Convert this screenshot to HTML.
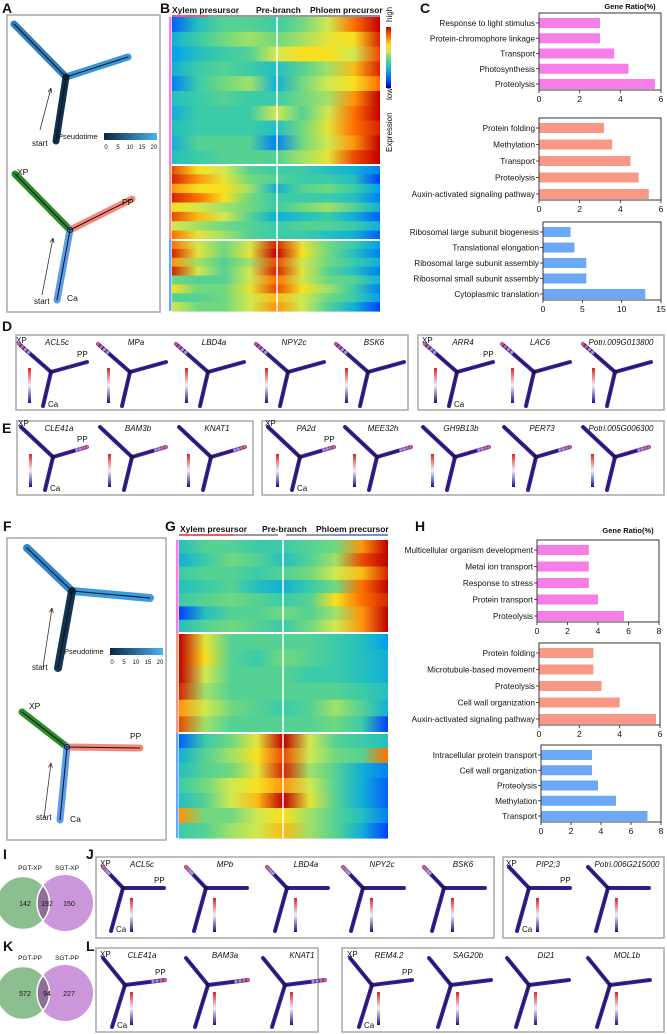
<!DOCTYPE html>
<html><head><meta charset="utf-8">
<style>
html,body{margin:0;padding:0;background:#fff;}
svg{display:block;font-family:"Liberation Sans",Arial,sans-serif;}
</style></head>
<body>
<svg id="fig" width="667" height="1034" viewBox="0 0 667 1034" xmlns="http://www.w3.org/2000/svg">
<defs id="defs"></defs>
</svg>
<script>
// ---------- DATA ----------
const cLabels1=["Response to light stimulus","Protein-chromophore linkage","Transport","Photosynthesis","Proteolysis"];
const cValues1=[3,3,3.7,4.4,5.7];
const cLabels2=["Protein folding","Methylation","Transport","Proteolysis","Auxin-activated signaling pathway"];
const cValues2=[3.2,3.6,4.5,4.9,5.4];
const cLabels3=["Ribosomal large subunit biogenesis","Translational elongation","Ribosomal large subunit assembly","Ribosomal small subunit assembly","Cytoplasmic translation"];
const cValues3=[3.5,4,5.5,5.5,13];
const hLabels1=["Multicellular organism development","Metal ion transport","Response to stress","Protein transport","Proteolysis"];
const hValues1=[3.4,3.4,3.4,4,5.7];
const hLabels2=["Protein folding","Microtubule-based movement","Proteolysis","Cell wall organization","Auxin-activated signaling pathway"];
const hValues2=[2.7,2.7,3.1,4,5.8];
const hLabels3=["Intracellular protein transport","Cell wall organization","Proteolysis","Methylation","Transport"];
const hValues3=[3.4,3.4,3.8,5,7.1];
const ticks6=[0,2,4,6];
const ticks8=[0,2,4,6,8];
const ticks15=[0,5,10,15];

const bCluster1=[[0.15,0.35,0.45,0.45,0.4,0.5,0.6,0.85,1],[0.3,0.4,0.5,0.55,0.5,0.55,0.65,0.7,0.95],[0.25,0.35,0.4,0.45,0.6,0.7,0.7,0.6,0.9],[0.3,0.4,0.45,0.4,0.35,0.45,0.55,0.75,0.95],[0.2,0.4,0.5,0.55,0.3,0.5,0.6,0.7,0.85],[0.35,0.4,0.45,0.4,0.4,0.5,0.55,0.8,1],[0.3,0.4,0.4,0.4,0.6,0.45,0.6,0.85,1],[0.35,0.4,0.4,0.4,0.35,0.5,0.65,0.85,0.95],[0.3,0.45,0.45,0.45,0.2,0.5,0.6,0.8,1],[0.35,0.4,0.45,0.45,0.45,0.55,0.65,0.9,1]];
const bCluster2=[[0.9,0.7,0.6,0.45,0.4,0.4,0.35,0.3,0.2],[0.95,0.8,0.65,0.5,0.45,0.4,0.4,0.35,0.1],[0.8,0.7,0.7,0.55,0.3,0.45,0.5,0.4,0.25],[0.95,0.85,0.7,0.5,0.4,0.4,0.4,0.35,0.2],[0.7,0.6,0.55,0.5,0.4,0.5,0.55,0.45,0.3],[0.9,0.75,0.6,0.45,0.3,0.35,0.4,0.3,0.15],[0.6,0.55,0.5,0.45,0.4,0.45,0.45,0.4,0.3],[0.85,0.65,0.55,0.45,0.4,0.4,0.35,0.3,0.15]];
const bCluster3=[[0.85,0.6,0.5,0.6,0.95,0.65,0.5,0.4,0.25],[0.95,0.65,0.5,0.65,1,0.7,0.5,0.35,0.2],[0.8,0.55,0.45,0.55,0.9,0.6,0.5,0.4,0.3],[0.95,0.6,0.45,0.6,0.95,0.65,0.45,0.35,0.2],[0.5,0.45,0.45,0.6,0.85,0.6,0.5,0.45,0.3],[0.7,0.5,0.5,0.65,0.9,0.7,0.55,0.4,0.2],[0.45,0.45,0.5,0.6,0.75,0.6,0.5,0.4,0.25],[0.6,0.5,0.5,0.6,0.8,0.6,0.45,0.3,0.1]];
const gCluster1=[[0.35,0.45,0.45,0.4,0.4,0.45,0.5,0.8,1],[0.3,0.4,0.5,0.45,0.35,0.45,0.55,0.9,1],[0.4,0.45,0.45,0.4,0.45,0.5,0.6,0.75,0.95],[0.35,0.4,0.45,0.35,0.3,0.4,0.5,0.85,1],[0.4,0.45,0.5,0.45,0.4,0.45,0.7,0.85,0.95],[0.1,0.35,0.45,0.45,0.5,0.45,0.55,0.8,1],[0.35,0.45,0.5,0.45,0.4,0.5,0.6,0.8,1]];
const gCluster2=[[1,0.65,0.45,0.45,0.45,0.45,0.4,0.35,0.25],[1,0.7,0.45,0.4,0.5,0.45,0.4,0.35,0.3],[1,0.6,0.45,0.45,0.45,0.4,0.4,0.35,0.3],[0.95,0.55,0.45,0.45,0.45,0.45,0.45,0.4,0.35],[0.8,0.6,0.5,0.45,0.4,0.45,0.55,0.45,0.3],[0.9,0.55,0.45,0.45,0.45,0.45,0.5,0.4,0.1]];
const gCluster3=[[0.15,0.4,0.5,0.65,1,0.6,0.45,0.4,0.35],[0.3,0.45,0.55,0.7,0.9,0.6,0.5,0.45,0.85],[0.35,0.45,0.5,0.65,0.95,0.55,0.45,0.3,0.2],[0.4,0.5,0.6,0.7,0.8,0.6,0.45,0.3,0.15],[0.35,0.45,0.6,0.75,1,0.65,0.45,0.3,0.15],[0.8,0.5,0.5,0.6,0.7,0.55,0.45,0.35,0.2],[0.4,0.45,0.55,0.6,0.75,0.55,0.45,0.3,0.1]];

const vennXP=[142,192,150];
const vennPP=[572,94,227];

const genesD1=["ACL5c","MPa","LBD4a","NPY2c","BSK6"];
const genesD2=["ARR4","LAC6","Potri.009G013800"];
const genesE1=["CLE41a","BAM3b","KNAT1"];
const genesE2=["PA2d","MEE32h","GH9B13b","PER73","Potri.005G006300"];
const genesJ1=["ACL5c","MPb","LBD4a","NPY2c","BSK6"];
const genesJ2=["PIP2;3","Potri.006G215000"];
const genesL1=["CLE41a","BAM3a","KNAT1"];
const genesL2=["REM4.2","SAG20b","DI21","MOL1b"];

// ---------- HELPERS ----------
const NS="http://www.w3.org/2000/svg";
const svg=document.getElementById("fig");
const defs=document.getElementById("defs");
function mk(tag,attrs,parent){const e=document.createElementNS(NS,tag);for(const k in attrs)e.setAttribute(k,attrs[k]);(parent||svg).appendChild(e);return e;}
function txt(x,y,s,size,opts,parent){opts=opts||{};const t=mk("text",Object.assign({x:x,y:y,"font-size":size,fill:"#111"},opts),parent);t.textContent=s;return t;}
const jetStops=[[0,[0,0,143]],[0.1,[0,64,255]],[0.25,[0,160,240]],[0.38,[48,200,176]],[0.5,[112,216,128]],[0.6,[208,232,80]],[0.7,[248,224,32]],[0.85,[255,112,0]],[1,[192,0,0]]];
function jet(v){v=Math.max(0,Math.min(1,v));for(let i=1;i<jetStops.length;i++){if(v<=jetStops[i][0]){const a=jetStops[i-1],b=jetStops[i];const t=(v-a[0])/(b[0]-a[0]);const c=a[1].map((x,j)=>Math.round(x+(b[1][j]-x)*t));return "rgb("+c.join(",")+")";}}return "rgb(192,0,0)";}
let gid=0;

// ---------- PANEL LETTERS ----------
[["A",2,13],["B",160,13],["C",420,13],["D",2,331],["E",2,433],["F",3,531],["G",165,531],["H",415,531],["I",3,859],["J",86,859],["K",3,951],["L",86,951]].forEach(p=>{
  const t=txt(p[1],p[2],p[0],14,{"font-weight":"bold"});
  
  
});

// ---------- BAR CHARTS ----------
function barChart(name,box,labels,values,max,ticks,color){
  const g=mk("g",{});
  
  
  const xs=v=>box.x0+v/max*(box.x1-box.x0);
  const step=(box.y1-box.y0-16)/(labels.length-1);
  labels.forEach((lab,i)=>{
    const y=box.y0+10+i*step;
    const r=mk("rect",{x:box.x0+0.5,y:y-5,width:Math.max(0,xs(values[i])-box.x0-0.5),height:10,fill:color},g);
    
    
    mk("line",{x1:box.x0-3,x2:box.x0,y1:y,y2:y,stroke:"#222","stroke-width":0.8},g);
    const t=txt(box.x0-4,y+3,lab,8.2,{"text-anchor":"end"},g);
    
    
  });
  const fr=mk("rect",{x:box.x0,y:box.y0,width:box.x1-box.x0,height:box.y1-box.y0,fill:"none",stroke:"#222","stroke-width":0.9},g);
  
  
  ticks.forEach(tk=>{
    const x=xs(tk);
    mk("line",{x1:x,x2:x,y1:box.y1,y2:box.y1+3,stroke:"#222","stroke-width":0.8},g);
    const t=txt(x,box.y1+12,String(tk),8.5,{"text-anchor":"middle"},g);
    
    
  });
}
const pink="#f77ee8",salmon="#f99886",blue="#6ba8f5";
barChart("chart-c-xylem",{x0:539,x1:661,y0:13,y1:90},cLabels1,cValues1,6,ticks6,pink);
barChart("chart-c-prebranch",{x0:539,x1:661,y0:118,y1:200},cLabels2,cValues2,6,ticks6,salmon);
barChart("chart-c-phloem",{x0:543,x1:661,y0:222,y1:300},cLabels3,cValues3,15,ticks15,blue);
barChart("chart-h-xylem",{x0:537,x1:659,y0:540,y1:622},hLabels1,hValues1,8,ticks8,pink);
barChart("chart-h-prebranch",{x0:539,x1:660,y0:643,y1:725},hLabels2,hValues2,6,ticks6,salmon);
barChart("chart-h-phloem",{x0:541,x1:661,y0:745,y1:822},hLabels3,hValues3,8,ticks8,blue);
[[630,9],[628,533]].forEach(p=>{const t=txt(p[0],p[1],"Gene Ratio(%)",7.5,{"font-weight":"bold","text-anchor":"middle"});

});

// ---------- HEATMAPS ----------
function heatmap(name,x0,x1,clusters,bounds,stripColors,prebranchX){
  const g=mk("g",{});
  
  
  clusters.forEach((rows,ci)=>{
    const y0=bounds[ci],y1=bounds[ci+1],h=(y1-y0)/rows.length;
    rows.forEach((prof,ri)=>{
      const id="hg"+(gid++);
      const lg=mk("linearGradient",{id:id,x1:0,x2:1,y1:0,y2:0},defs);
      prof.forEach((v,k)=>mk("stop",{offset:k/(prof.length-1),"stop-color":jet(v)},lg));
      const r=mk("rect",{x:x0,y:y0+ri*h,width:x1-x0,height:h+0.6,fill:"url(#"+id+")"},g);
      
      
    });
    const s=mk("rect",{x:x0-3,y:y0,width:2.5,height:y1-y0,fill:stripColors[ci]},g);
    
    
    if(ci>0){mk("line",{x1:x0,x2:x1,y1:y0,y2:y0,stroke:"#fff","stroke-width":2},g);}
  });
  const v=mk("line",{x1:prebranchX,x2:prebranchX,y1:bounds[0],y2:bounds[bounds.length-1],stroke:"#fff","stroke-width":1.5},g);
  
  
}
heatmap("heatmap-b",172,380,[bCluster1,bCluster2,bCluster3],[17,165,240,311],[pink,salmon,blue],277);
heatmap("heatmap-g",179,388,[gCluster1,gCluster2,gCluster3],[540,633,733,838],[pink,salmon,blue],283);

function header(y,xs,segs){
  const names=["Xylem presursor","Pre-branch","Phloem precursor"];
  names.forEach((n,i)=>{const t=txt(xs[i],y,n,8.5,{"font-weight":"bold"});
  
  });
  segs.forEach(s=>mk("rect",{x:s[0],y:y+2,width:s[1]-s[0],height:2,fill:s[2]}));
}
header(13,[172,256,310],[[172,209,"#ee5a6a"],[209,343,"#9a9a9a"],[343,380,"#7a8fd0"]]);
header(532,[180,262,316],[[179,233,"#ee5a6a"],[233,278,"#9a9a9a"],[286,334,"#9a9a9a"],[334,388,"#7a8fd0"]]);

// expression colorbar
(function(){
  const lg=mk("linearGradient",{id:"jetv",x1:0,x2:0,y1:1,y2:0},defs);
  for(let k=0;k<=10;k++)mk("stop",{offset:k/10,"stop-color":jet(k/10)},lg);
  const r=mk("rect",{x:386,y:27,width:5,height:61,fill:"url(#jetv)"});
  
  
  [["high",392,22],["low",392,100],["Expression",392,152]].forEach(p=>{
    const t=txt(p[1],p[2],p[0],8,{transform:"rotate(-90 "+p[1]+" "+p[2]+")"});
    
    
  });
})();

// ---------- BIG TRAJECTORIES ----------
function frame(name,x,y,w,h){const r=mk("rect",{x:x,y:y,width:w,height:h,fill:"none",stroke:"#a8a8a8","stroke-width":1.5});

}
frame("panel-a-frame",7,15,153,297);
frame("panel-f-frame",7,538,159,302);
mk("linearGradient",{id:"ptime",x1:0,x2:1,y1:0,y2:0},defs);
mk("stop",{offset:0,"stop-color":"#0b2640"},document.getElementById("ptime"));
mk("stop",{offset:1,"stop-color":"#4bb2f5"},document.getElementById("ptime"));
function arm(pts,color,w){const p=mk("path",{d:"M"+pts.map(q=>q.join(",")).join("L"),stroke:color,"stroke-width":w,fill:"none","stroke-linecap":"round","stroke-linejoin":"round"});

return p;}
function bigTraj(J,XP,PP,CA,cols,w){
  arm([J,XP],cols[0],w);arm([J,PP],cols[1],w);arm([J,CA],cols[2],w);
  arm([J,XP],"#111",1);arm([J,PP],"#111",1);arm([J,CA],"#111",1);
  mk("circle",{cx:J[0],cy:J[1],r:2.5,fill:"none",stroke:"#111","stroke-width":1});
}
function startArrow(x1,y1,x2,y2,lx,ly){
  const l=mk("line",{x1:x1,y1:y1,x2:x2,y2:y2,stroke:"#333","stroke-width":0.8});
  
  
  const a=Math.atan2(y2-y1,x2-x1);
  mk("path",{d:`M${x2},${y2}L${x2-5*Math.cos(a-0.4)},${y2-5*Math.sin(a-0.4)}M${x2},${y2}L${x2-5*Math.cos(a+0.4)},${y2-5*Math.sin(a+0.4)}`,stroke:"#333","stroke-width":0.8,fill:"none"});
  const t=txt(lx,ly,"start",8);
}
function ptimeBar(x,y){
  const t=txt(x-46,y+6,"Pseudotime",7.5);
  const r=mk("rect",{x:x,y:y,width:53,height:7,fill:"url(#ptime)"});
  
  
  [0,5,10,15,20].forEach((v,i)=>txt(x+2+i*12,y+16,String(v),6,{"text-anchor":"middle"}));
}
function branchLabels(xp,pp,ca){
  [["XP",xp],["PP",pp],["Ca",ca]].forEach(p=>{const t=txt(p[1][0],p[1][1],p[0],8.5);
  
  });
}
bigTraj([66,77],[14,24],[128,57],[56,141],["#2e7fc0","#3597dc","#0f3150"],7);
startArrow(40,130,51,88,32,146);ptimeBar(104,133);
bigTraj([70,230],[15,174],[132,199],[57,300],["#2a8a2a","#f7897a","#5b9cee"],7);
startArrow(42,295,53,238,34,304);branchLabels([17,175],[122,205],[67,301]);
bigTraj([72,591],[27,548],[150,598],[58,668],["#2e86cc","#3a9ce0","#123556"],8);
startArrow(43,667,52,608,32,670);ptimeBar(110,648);
bigTraj([67,747],[22,712],[140,748],[60,820],["#2b8a2b","#f7897a","#5b9cee"],7);
startArrow(44,818,51,763,36,820);branchLabels([29,709],[130,739],[70,822]);

// ---------- MINI TRAJECTORIES ----------
mk("linearGradient",{id:"rwb",x1:0,x2:0,y1:1,y2:0},defs);
[["0","#1010a0"],["0.5","#f4f0f4"],["1","#e02020"]].forEach(s=>mk("stop",{offset:s[0],"stop-color":s[1]},document.getElementById("rwb")));
function miniBox(name,x,y,w,h){frame(name,x,y,w,h);}
function mini(ox,oy,geo,gene,hot,labels){
  const g=mk("g",{});
  
  
  const P=q=>[ox+q[0],oy+q[1]];
  const J=P(geo.J),XP=P(geo.XP),PP=P(geo.PP),CA=P(geo.CA);
  const col="#3b1e9e";
  [[J,XP],[J,PP],[J,CA]].forEach(s=>{const p=mk("path",{d:`M${s[0]}L${s[1]}`,stroke:col,"stroke-width":4,"stroke-linecap":"round",fill:"none"},g);
  });
  [[J,XP],[J,PP],[J,CA]].forEach(s=>mk("path",{d:`M${s[0]}L${s[1]}`,stroke:"#111","stroke-width":0.6,fill:"none"},g));
  mk("circle",{cx:J[0],cy:J[1],r:1.6,fill:"none",stroke:"#111","stroke-width":0.7},g);
  const tip=hot==="xp"?[XP,J]:hot==="pp"?[PP,J]:null;
  if(tip){for(let k=0;k<4;k++){const t=k/10;mk("circle",{cx:tip[0][0]+(tip[1][0]-tip[0][0])*t,cy:tip[0][1]+(tip[1][1]-tip[0][1])*t,r:1.7,fill:k<2?"#f07080":"#c8a0e0","opacity":0.85},g);}}
  const cb=mk("rect",{x:ox+geo.cb[0],y:oy+geo.cb[1],width:3,height:geo.cb[2],fill:"url(#rwb)"},g);
  
  
  const t=txt(ox+geo.tx,oy+10,gene,8,{"font-style":"italic","text-anchor":"middle"},g);
  
  
  if(labels){
    const l1=txt(XP[0]-3,XP[1]-1,"XP",8,{},g);
    const l2=txt(PP[0]-10,PP[1]-5,"PP",8,{},g);
    const l3=txt(CA[0]+5,CA[1]+1,"Ca",8,{},g);
  }
}
const geoD={XP:[2,9],J:[34,37],PP:[70,27],CA:[26,71],cb:[11,33,35],tx:40};
const geoE={XP:[2,6],J:[34,36],PP:[68,26],CA:[26,69],cb:[10,33,33],tx:40};
const geoJ={XP:[3,10],J:[23,31],PP:[64,31],CA:[11,74],cb:[30,41,34],tx:42};
const geoL={XP:[3,10],J:[25,37],PP:[65,32],CA:[12,79],cb:[30,44,33],tx:42};
function row(origins,genes,y,geo,hot){origins.forEach((x,i)=>mini(x,y,geo,genes[i],hot,i===0));}
miniBox("panel-d-box-1",16,335,392,75);miniBox("panel-d-box-2",418,335,246,75);
row([17,96,174,254,334],genesD1,335,geoD,"xp");row([423,500,581],genesD2,335,geoD,"xp");
miniBox("panel-e-box-1",17,421,236,74);miniBox("panel-e-box-2",262,421,402,74);
row([19,98,177],genesE1,421,geoE,"pp");row([266,343,421,502,581],genesE2,421,geoE,"pp");
miniBox("panel-j-box-1",96,857,398,81);miniBox("panel-j-box-2",503,857,161,81);
row([100,183,264,340,421],genesJ1,857,geoJ,"xp");row([506,585],genesJ2,857,geoJ,"none");
miniBox("panel-l-box-1",96,948,222,84);miniBox("panel-l-box-2",342,948,322,84);
row([100,183,260],genesL1,948,geoL,"pp");row([347,426,504,585],genesL2,948,geoL,"none");

// ---------- VENN ----------
function venn(name,cy,vals,labs){
  const g=mk("g",{});
  
  
  const id="clip"+name;
  const cp=mk("clipPath",{id:id},defs);mk("circle",{cx:23,cy:cy,r:26.5},cp);
  const a=mk("circle",{cx:23,cy:cy,r:26.5,fill:"#8cbf8f"},g);
  
  const b=mk("circle",{cx:65,cy:cy,r:28,fill:"#cc97da"},g);
  
  const o=mk("circle",{cx:65,cy:cy,r:28,fill:"#8e6e9a","clip-path":"url(#"+id+")"},g);
  
  mk("circle",{cx:65,cy:cy,r:28,fill:"none",stroke:"#fff","stroke-width":1.5,"clip-path":"url(#"+id+")"},g);
  mk("circle",{cx:23,cy:cy,r:26.5,fill:"none",stroke:"#fff","stroke-width":1.5},g);
  [25,47,69].forEach((x,i)=>{const t=txt(x,cy+3,String(vals[i]),7,{"text-anchor":"middle"},g);
  });
  [[30,labs[0]],[67,labs[1]]].forEach(p=>{const t=txt(p[0],cy-33,p[1],6.5,{"text-anchor":"middle"},g);
  });
}
venn("venn-xp",903,vennXP,["PGT-XP","SGT-XP"]);
venn("venn-pp",993,vennPP,["PGT-PP","SGT-PP"]);
</script>
</body></html>
